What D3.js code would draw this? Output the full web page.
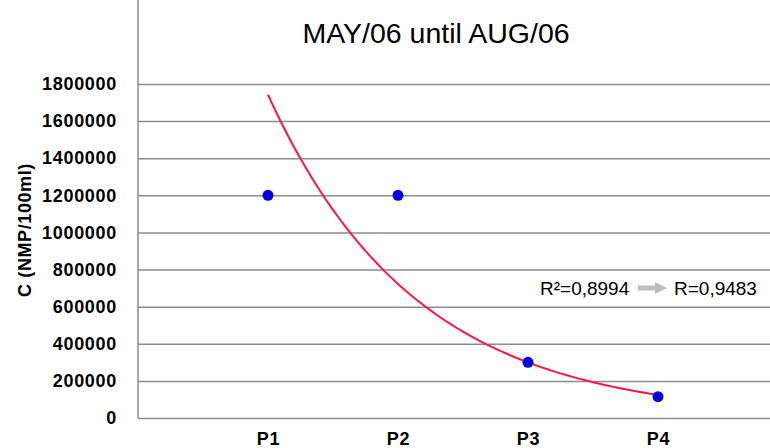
<!DOCTYPE html>
<html>

<head>
    <style>
        body {
            margin: 0;
            background: #fff;
        }

        svg text {
            font-family: "Liberation Sans", Arial, sans-serif;
        }

        .grid line {
            stroke: #8c8c8c;
            stroke-width: 1.5px;
        }

        .tick-label {
            font-size: 18px;
            font-weight: bold;
            letter-spacing: 0.7px;
            fill: #000;
        }
    </style>
    <script src="https://d3js.org/d3.v7.min.js"></script>
</head>

<body>
    <svg width="770" height="448"></svg>
    <script>
        // data
        var categories = ["P1", "P2", "P3", "P4"];
        var values = [1200000, 1200000, 300000, 115000];
        var yTicks = [0, 200000, 400000, 600000, 800000, 1000000, 1200000, 1400000, 1600000, 1800000];
        // exponential trendline  y = a * exp(b * x), x = 1..4
        var trendA = 4200000,
            trendB = -0.88;
        var r2Label = "R²=0,8994",
            rLabel = "R=0,9483";

        var svg = d3.select("svg"),
            left = 138,
            right = 770,
            top = 12,
            bottom = 418;

        var x = d3.scaleLinear().domain([0, 5]).range([left, left + 650]);
        var y = d3.scaleLinear().domain([0, 1800000]).range([bottom, 84]);

        // title
        svg.append("text")
            .attr("x", 436)
            .attr("y", 43)
            .attr("text-anchor", "middle")
            .attr("font-size", "28.5px")
            .text("MAY/06 until AUG/06");

        // y axis with gridlines
        var yAxis = svg.append("g")
            .attr("class", "grid")
            .attr("transform", "translate(" + left + ",0)")
            .call(d3.axisLeft(y).tickValues(yTicks).tickSize(-(right - left)).tickPadding(21)
                .tickFormat(function (d) { return "" + d; }));
        yAxis.select(".domain").remove();
        yAxis.selectAll("text").attr("class", "tick-label").attr("font-family", null).attr("font-size", null);

        // vertical axis line
        svg.append("line")
            .attr("x1", left).attr("x2", left)
            .attr("y1", bottom).attr("y2", top)
            .attr("stroke", "#8c8c8c")
            .attr("stroke-width", 1.5);

        // x axis labels
        var xAxis = svg.append("g")
            .attr("transform", "translate(0," + bottom + ")")
            .call(d3.axisBottom(x).tickValues([1, 2, 3, 4]).tickSize(0).tickPadding(14)
                .tickFormat(function (d) { return categories[d - 1]; }));
        xAxis.select(".domain").remove();
        xAxis.selectAll("text").attr("class", "tick-label").attr("font-family", null).attr("font-size", null);

        // y axis title
        svg.append("text")
            .attr("transform", "translate(31,230) rotate(-90)")
            .attr("text-anchor", "middle")
            .attr("font-size", "18px")
            .attr("font-weight", "bold")
            .attr("letter-spacing", "0.6px")
            .text("C (NMP/100ml)");

        // trendline
        var trend = d3.range(1, 4.001, 0.05).map(function (t) {
            return [t, trendA * Math.exp(trendB * t)];
        });
        svg.append("path")
            .datum(trend)
            .attr("fill", "none")
            .attr("stroke", "#ff1446")
            .attr("stroke-width", 2)
            .attr("d", d3.line()
                .x(function (d) { return x(d[0]); })
                .y(function (d) { return y(d[1]); }));

        // points
        svg.selectAll(".dot")
            .data(values)
            .enter().append("circle")
            .attr("class", "dot")
            .attr("cx", function (d, i) { return x(i + 1); })
            .attr("cy", function (d) { return y(d); })
            .attr("r", 5.5)
            .attr("fill", "#0000e0");

        // R annotation
        svg.append("text")
            .attr("x", 540)
            .attr("y", 295)
            .attr("font-size", "19px")
            .text(r2Label);
        svg.append("path")
            .attr("d", "M638,285.5 L655,285.5 L655,282 L667,288 L655,294 L655,290.5 L638,290.5 Z")
            .attr("fill", "#bdbdbd");
        svg.append("text")
            .attr("x", 674)
            .attr("y", 295)
            .attr("font-size", "19px")
            .text(rLabel);
    </script>
</body>

</html>
